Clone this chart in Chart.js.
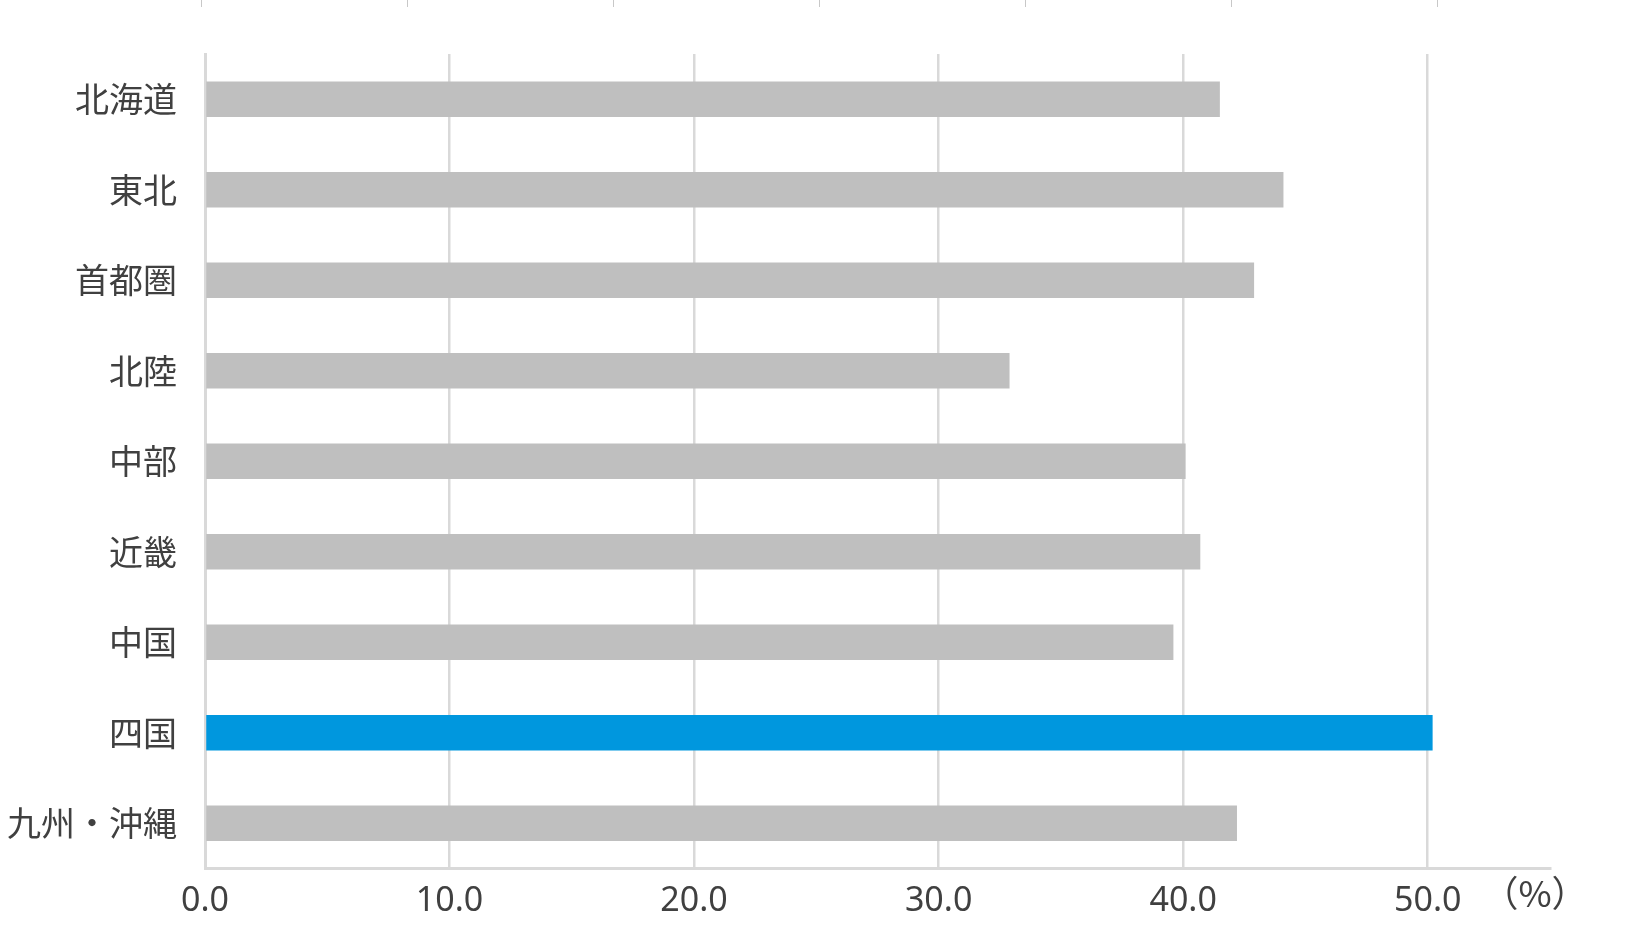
<!DOCTYPE html>
<html lang="ja">
<head>
  <meta charset="UTF-8">
  <meta name="viewport" content="width=device-width, initial-scale=1.0">
  <script src="https://cdn.jsdelivr.net/npm/chart.js"></script>
  <title>地域別</title>
  <style>
    body { margin: 0; background: #fff; }
    #wrap { position: relative; width: 1632px; height: 939px; }
    /* little tick marks left over from the chart above */
    #topTicks {
      position: absolute; left: 201px; top: 0; width: 1238px; height: 7px;
      background: repeating-linear-gradient(to right, #c8c8c8 0, #c8c8c8 1px, transparent 1px, transparent 206px);
    }
  </style>
</head>
<body>

<div id="wrap">
  <div id="topTicks"></div>
  <canvas id="myChart"></canvas>
</div>

<script>
  const regions = ['北海道', '東北', '首都圏', '北陸', '中部', '近畿', '中国', '四国', '九州・沖縄'];
  const rates = [41.5, 44.1, 42.9, 32.9, 40.1, 40.7, 39.6, 50.2, 42.2];
  const highlightRegion = '四国';
  const xTicks = [0, 10, 20, 30, 40, 50];
  const unitLabel = '（%）';

  const grayBar = '#bfbfbf';
  const blueBar = '#0097de';
  const textColor = '#404040';
  const lineColor = '#d9d9d9';

  var barColors = regions.map(r => r === highlightRegion ? blueBar : grayBar);

  // draws the unit next to the last x tick
  const unitPlugin = {
    id: 'unitLabel',
    afterDraw(chart) {
      const ctx = chart.ctx;
      const area = chart.chartArea;
      ctx.save();
      ctx.font = '36px "Noto Sans CJK JP"';
      ctx.fillStyle = textColor;
      ctx.textAlign = 'center';
      ctx.textBaseline = 'middle';
      ctx.fillText(unitLabel, area.right - 15, area.bottom + 25);
      ctx.restore();
    }
  };

  const ctx = document.getElementById('myChart');
  new Chart(ctx, {
    type: 'bar',
    data: {
      labels: regions,
      datasets: [{
        data: rates,
        backgroundColor: barColors,
        borderWidth: 0,
        barPercentage: 0.39,
        categoryPercentage: 1
      }]
    },
    options: {
      indexAxis: 'y',
      responsive: true,
      maintainAspectRatio: false,
      animation: false,
      layout: { padding: { top: 54, right: 82, left: 0, bottom: 0 } },
      plugins: {
        legend: { display: false },
        tooltip: { enabled: false }
      },
      scales: {
        x: {
          min: 0,
          max: 55,
          afterBuildTicks: scale => { scale.ticks = xTicks.map(v => ({ value: v })); },
          afterFit: scale => { scale.height = 70.5; },
          grid: { color: lineColor, lineWidth: 2.5, drawTicks: false },
          border: { color: lineColor, width: 3 },
          ticks: {
            padding: 12,
            color: textColor,
            font: { family: 'Noto Sans', size: 34 },
            callback: v => v.toFixed(1)
          }
        },
        y: {
          afterFit: scale => { scale.width = 205; },
          grid: { display: false, drawTicks: false },
          border: { color: lineColor, width: 3 },
          ticks: {
            padding: 28,
            color: textColor,
            font: { family: 'Noto Sans CJK JP', size: 34 }
          }
        }
      }
    },
    plugins: [unitPlugin]
  });
</script>

</body>
</html>
